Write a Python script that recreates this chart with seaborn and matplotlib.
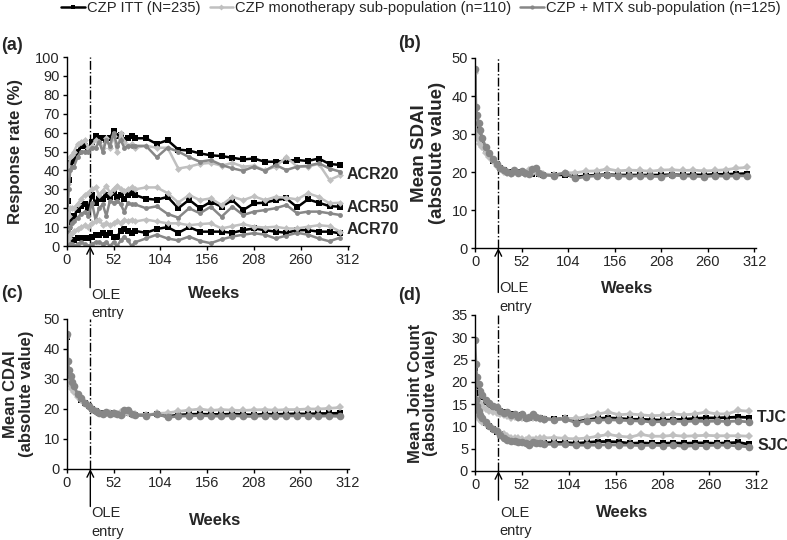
import matplotlib
matplotlib.use("Agg")
import matplotlib.pyplot as plt
from matplotlib.lines import Line2D
import seaborn as sns
import pandas as pd

sns.set_style("white")
plt.rcParams["font.family"] = ["Liberation Sans", "DejaVu Sans"]

GROUPS = ["CZP ITT (N=235)", "CZP monotherapy sub-population (n=110)",
          "CZP + MTX sub-population (n=125)"]
COLORS = {GROUPS[0]: "#000000", GROUPS[1]: "#c0c0c0", GROUPS[2]: "#878787"}
MARKERS = {GROUPS[0]: "s", GROUPS[1]: "D", GROUPS[2]: "o"}
OLE_WEEK = 26

# ---- panel (a): ACR response rates ----
weeks_acr = [1, 2, 4, 6, 8, 12, 16, 20, 24, 28, 32, 36, 40, 44, 48, 52, 56, 60, 64, 68,
             72, 76, 88, 100, 112, 124, 136, 148, 160, 172, 184, 196, 208, 220, 232,
             244, 256, 268, 280, 292, 304]

acr20_itt = [24, 35, 44, 45, 46, 50, 53, 53, 52, 55, 58, 57, 57, 56, 57, 61, 58, 59, 56, 57,
             58, 57, 57, 54, 56, 51, 50.5, 49, 48, 47.6, 46.7, 45.8, 46.3, 44.6, 44.6,
             45.2, 45.5, 45, 46.3, 43.4, 42.9]
acr20_mono = [33, 42, 47, 48, 50, 54, 55, 56, 52, 53, 56, 55, 52, 57, 52, 58, 50, 60, 55, 53,
              54, 52, 53, 52, 52, 41, 42, 43.5, 44, 42.5, 44, 42, 42.5, 40, 42,
              47, 42, 42, 43.5, 35, 37.5]
acr20_mtx = [18, 30, 40, 42, 42, 47, 50, 50, 50, 52, 52, 55, 50, 56, 53, 60, 53, 56, 52, 53,
             53, 53, 53, 47, 52, 50, 47, 44.6, 45.5, 42.9, 41.1, 39.8, 42, 39.8, 42.9,
             40.2, 42, 42.4, 43.8, 41, 39.3]

acr50_itt = [5, 10, 14, 15, 16, 19, 21, 22, 20, 27, 23, 25, 25, 27, 26, 28, 26, 27, 25, 27,
             28, 27, 25, 24.5, 26, 20, 24.5, 20, 23.4, 20.8, 24.3, 19, 22.6, 22.9, 24.3,
             25.2, 20.5, 24.7, 22.9, 21.1, 20.8]
acr50_mono = [10, 16, 20, 20, 20, 22, 25, 27, 28, 30, 31, 27, 29, 32, 28, 30, 32, 30, 29, 30,
              31, 30, 31, 31, 28, 23, 27, 24.3, 25.2, 21.7, 26, 24.3, 26.3, 24.3, 26,
              25.5, 24.7, 27.9, 26, 22.6, 22.9]
acr50_mtx = [2, 5, 10, 12, 13, 15, 17, 18, 16, 23, 14, 20, 22, 16, 24, 23, 24, 22, 18, 23,
             22, 22, 20, 21, 17, 15, 20, 17.3, 20.8, 15.5, 20.8, 16.4, 18.2, 19, 20,
             21.7, 17.3, 18.2, 18.2, 17.3, 16.4]

acr70_itt = [0, 1, 2, 3, 3, 4, 4, 4, 4, 5, 6, 6, 7, 6, 7, 5, 5, 8, 9, 8,
             7, 8, 7, 9, 10, 7, 10, 7.6, 7.6, 7.6, 7, 8.4, 9.3, 8.4, 7.6,
             7, 8.4, 8.4, 7.6, 7.6, 6.7]
acr70_mono = [2, 4, 6, 7, 8, 9, 10, 11, 10, 12, 13, 14, 11, 12, 11, 12, 13, 12, 14, 13,
              14, 13, 14, 13, 12, 12, 11, 11.6, 12, 9.3, 10.5, 11.6, 10.2, 9.8, 10.2,
              9.3, 9.3, 10.2, 11, 10.5, 7.6]
acr70_mtx = [0, 0, 1, 1, 0, 1, 2, 1, 0, 1, 2, 2, 1, 2, 0, 2, 0, 3, 5, 3,
             0, 2, 4, 6, 4, 3, 5, 2.7, 1.5, 3.5, 5, 6, 6.8, 6, 4,
             5.5, 7, 6, 4, 2.5, 4.5]

# ---- panels (b)-(d): mean scores ----
weeks = [0] + weeks_acr

sdai_itt = [46.5, 33, 32, 30.5, 29, 28, 26, 24.5, 23, 22, 21, 20.5, 20, 20, 20, 20, 20,
            19.8, 19.8, 19.5, 20, 19.5, 19.3, 19.2, 19.3, 18.7, 19, 19.2, 19.3, 19.2, 19.2,
            19.2, 19.2, 19.2, 19.3, 19.2, 19.3, 19.2, 19.4, 19.4, 19.5, 19.6]
sdai_mono = [46, 30, 29.5, 28.5, 27.5, 26.5, 25, 24, 23, 21.5, 20.8, 20, 19.8, 19.5, 20.3,
             19.8, 20, 19.5, 20.5, 19.7, 20, 19.5, 19.5, 19.3, 19.8, 19.8, 20.2, 20.3, 20.8,
             20.3, 20.5, 20.4, 20.2, 20.5, 20.6, 20.4, 20.5, 20.3, 20.4, 20.6, 21, 21.2]
sdai_mtx = [47, 37, 35, 33, 31, 29, 26.5, 25, 23.5, 22, 21, 20.5, 20, 19.8, 20.4, 19.8,
            20.2, 19.8, 19.5, 20.8, 21, 19.8, 19.3, 19, 19.8, 18.3, 18.8, 19, 19.2, 19,
            18.9, 19, 18.9, 18.8, 19.2, 19, 18.9, 18.8, 19, 18.9, 19, 19]

cdai_itt = [44, 31, 30, 29, 28, 26.5, 24.5, 23, 22, 21, 20, 19.3, 18.8, 18.5, 18.5, 18.5,
            18.3, 18.3, 18.3, 18.5, 19, 18.2, 18, 18, 18.3, 17.5, 18, 18.2, 18.3, 18.2,
            18.2, 18.3, 18.2, 18, 18.3, 18.2, 18.3, 18.4, 18.3, 18.5, 18.5, 18.6]
cdai_mono = [44, 29, 28.5, 27.5, 26.5, 25.5, 24, 23, 22, 20.8, 19.8, 19, 18.7, 18.4, 18.8,
             18.5, 18.6, 18.2, 18.9, 18.3, 18.5, 18.2, 18.2, 18, 18.5, 18.7, 19.2, 19.6, 20,
             19.5, 19.8, 19.6, 19.5, 19.7, 19.8, 19.6, 19.8, 19.8, 20, 20, 20.2, 20.5]
cdai_mtx = [45, 36, 33, 31, 29, 27.5, 25, 23.5, 22, 21, 20, 19.2, 18.7, 18.2, 19, 18.3,
            18.7, 18.2, 18, 19.8, 19.5, 18.4, 18, 17.8, 18.4, 17.2, 17.6, 17.7, 17.8, 17.7,
            17.6, 17.8, 17.6, 17.5, 17.8, 17.6, 17.7, 17.7, 17.8, 17.6, 17.7, 17.5]

tjc_itt = [23, 20, 19, 18, 17, 16.5, 15.5, 14.8, 14.2, 13.8, 13.5, 13.2, 13, 12.8, 12.5,
           12.3, 12.5, 12, 12, 12.2, 12, 11.8, 11.7, 11.6, 11.8, 11, 11.5, 11.8, 11.9, 11.8,
           11.6, 11.6, 11.5, 11.4, 11.5, 11.6, 11.8, 11.9, 11.9, 12, 12.1, 12]
tjc_mono = [18, 16.5, 16, 15.5, 15, 14.5, 14, 13.5, 13.2, 13, 12.8, 12.5, 12.3, 12, 12.2,
            12, 12, 11.8, 12, 11.8, 11.8, 11.6, 11.5, 11.5, 11.8, 11.8, 12.2, 12.8, 13.2,
            12.6, 12.8, 12.6, 12.4, 12.5, 12.8, 12.6, 12.8, 13.2, 12.8, 12.8, 13.6, 13.4]
tjc_mtx = [29.3, 24, 21, 19.5, 18, 17, 16, 15.2, 14.5, 14.3, 13.5, 13, 13.2, 12.5, 12.8,
           12.2, 12.8, 12, 12.2, 12.8, 12.2, 11.8, 11.7, 11.5, 11.7, 10.8, 11.3, 11.4, 11.5,
           11.4, 11.3, 11.2, 11, 11.1, 11.2, 11.1, 11.2, 11.1, 11.2, 11.1, 11.2, 11]

sjc_itt = [17.5, 15, 14, 13, 12.5, 11.5, 10.8, 10, 9.5, 8.8, 8.2, 7.8, 7.3, 7, 7, 6.8,
           6.6, 6.5, 6.3, 6.4, 6.4, 6.2, 6.3, 6.4, 6.4, 6.2, 6.4, 6.6, 6.6, 6.5, 6.2, 6.3,
           6.2, 6.2, 6.3, 6.2, 6.3, 6.3, 6.2, 6.3, 6.4, 6]
sjc_mono = [14, 13, 12.5, 12, 11.5, 11, 10.5, 10, 9.5, 9, 8.5, 8.2, 7.8, 7.5, 7.5, 7.3,
            7.2, 7, 7.3, 7, 7.2, 7.3, 7.4, 7.5, 7.3, 7.2, 7.4, 7.8, 8.2, 7.8, 7.6, 8.2,
            7.8, 7.8, 8, 7.8, 7.9, 8, 7.9, 7.9, 7.9, 7.8]
sjc_mtx = [20, 16, 14.5, 13.5, 12.5, 11.8, 11, 10.2, 9.5, 9, 8, 7.5, 7, 6.8, 6.8, 6.5,
           6.4, 6.2, 5.9, 6.5, 6.3, 6.2, 6, 6, 6, 5.8, 5.8, 5.8, 5.9, 5.8, 5.8, 5.7,
           5.8, 5.7, 5.8, 5.5, 5.7, 5.7, 5.8, 5.8, 5.6, 5.4]


def long_df(x, itt, mono, mtx):
    return pd.DataFrame({
        "week": list(x) * 3,
        "value": list(itt) + list(mono) + list(mtx),
        "group": [GROUPS[0]] * len(x) + [GROUPS[1]] * len(x) + [GROUPS[2]] * len(x),
    })


def draw_series(ax, df, sizes, lw=1.8):
    for g in GROUPS:
        sns.lineplot(data=df[df.group == g], x="week", y="value", ax=ax,
                     color=COLORS[g], marker=MARKERS[g], markersize=sizes[g],
                     markeredgewidth=0, lw=lw, legend=False)


def style_axis(ax, ymax, ystep, ylabel, label_x, label_size, ole_arrow, ole_text, weeks_off, weeks_x):
    ax.set_xlim(0, 314)
    ax.set_ylim(0, ymax)
    ax.set_xticks(range(0, 313, 52))
    ax.set_yticks(range(0, ymax + 1, ystep))
    for s in ["top", "right"]:
        ax.spines[s].set_visible(False)
    for s in ["left", "bottom"]:
        ax.spines[s].set_color("black")
        ax.spines[s].set_linewidth(1.0)
    ax.tick_params(axis="both", direction="out", length=3, width=1, color="black",
                   labelsize=10.5, pad=2, left=True, bottom=True)
    ax.set_xlabel("")
    ax.set_ylabel(ylabel, fontsize=label_size, fontweight="bold", linespacing=1.05)
    ax.yaxis.set_label_coords(label_x, 0.5)
    ax.axvline(OLE_WEEK, color="black", lw=1, ls="-.", zorder=0)
    ax.annotate("", xy=(OLE_WEEK, 0), xycoords=("data", "axes fraction"),
                xytext=(0, -ole_arrow), textcoords="offset points",
                arrowprops=dict(arrowstyle="->", lw=1, color="black",
                                shrinkA=0, shrinkB=0, mutation_scale=12))
    ax.annotate("OLE\nentry", xy=(OLE_WEEK, 0), xycoords=("data", "axes fraction"),
                xytext=(1, -ole_text), textcoords="offset points", ha="left", va="top",
                fontsize=10.5, linespacing=1.4)
    ax.annotate("Weeks", xy=(weeks_x, 0), xycoords="axes fraction",
                xytext=(0, -weeks_off), textcoords="offset points", ha="center",
                va="center", fontsize=12, fontweight="bold")


fig = plt.figure(figsize=(7.87, 5.4), dpi=100)
ax_a = fig.add_axes([0.0848, 0.5444, 0.3591, 0.35])
ax_b = fig.add_axes([0.6036, 0.5407, 0.357, 0.3519])
ax_c = fig.add_axes([0.0851, 0.1315, 0.3583, 0.2778])
ax_d = fig.add_axes([0.6036, 0.1278, 0.3596, 0.2889])

small = {GROUPS[0]: 4, GROUPS[1]: 3.5, GROUPS[2]: 3.5}
big = {GROUPS[0]: 4, GROUPS[1]: 4.5, GROUPS[2]: 5.5}

draw_series(ax_a, long_df(weeks_acr, acr20_itt, acr20_mono, acr20_mtx), small)
draw_series(ax_a, long_df(weeks_acr, acr50_itt, acr50_mono, acr50_mtx), small)
draw_series(ax_a, long_df(weeks_acr, acr70_itt, acr70_mono, acr70_mtx), small)
draw_series(ax_b, long_df(weeks, sdai_itt, sdai_mono, sdai_mtx), big, 2.0)
draw_series(ax_c, long_df(weeks, cdai_itt, cdai_mono, cdai_mtx), big, 2.0)
draw_series(ax_d, long_df(weeks, tjc_itt, tjc_mono, tjc_mtx), big, 2.0)
draw_series(ax_d, long_df(weeks, sjc_itt, sjc_mono, sjc_mtx), big, 2.0)

style_axis(ax_a, 100, 10, "Response rate (%)", -0.155, 12, 30, 30, 34, 0.52)
style_axis(ax_b, 50, 10, "Mean SDAI\n(absolute value)", -0.103, 13.5, 32, 24, 29, 0.54)
style_axis(ax_c, 50, 10, "Mean CDAI\n(absolute value)", -0.117, 12, 27, 27, 37, 0.525)
style_axis(ax_d, 35, 5, "Mean Joint Count\n(absolute value)", -0.13, 12, 21, 25, 30, 0.52)

for txt, y in [("ACR20", 37.6), ("ACR50", 20.6), ("ACR70", 8.5)]:
    ax_a.text(311, y, txt, fontsize=11.5, fontweight="bold", va="center", ha="left",
              clip_on=False)
for txt, y in [("TJC", 12.1), ("SJC", 5.8)]:
    ax_d.text(313, y, txt, fontsize=11.5, fontweight="bold", va="center", ha="left",
              clip_on=False)

for lab, x, y in [("(a)", 0.002, 1 - 45 / 540), ("(b)", 0.506, 1 - 43 / 540),
                  ("(c)", 0.002, 1 - 293 / 540), ("(d)", 0.506, 1 - 295 / 540)]:
    fig.text(x, y, lab, fontsize=13, fontweight="bold", ha="left", va="center")

handles = [Line2D([], [], color=COLORS[g], marker=MARKERS[g], markersize=3,
                  markeredgewidth=0, lw=1.8) for g in GROUPS]
fig.legend(handles, GROUPS, loc="upper center", bbox_to_anchor=(0.535, 0.998), ncol=3,
           frameon=False, fontsize=10.6, handlelength=1.6, handletextpad=0.15,
           columnspacing=0.6, borderaxespad=0, borderpad=0)

fig.savefig("out.png", dpi=100)
